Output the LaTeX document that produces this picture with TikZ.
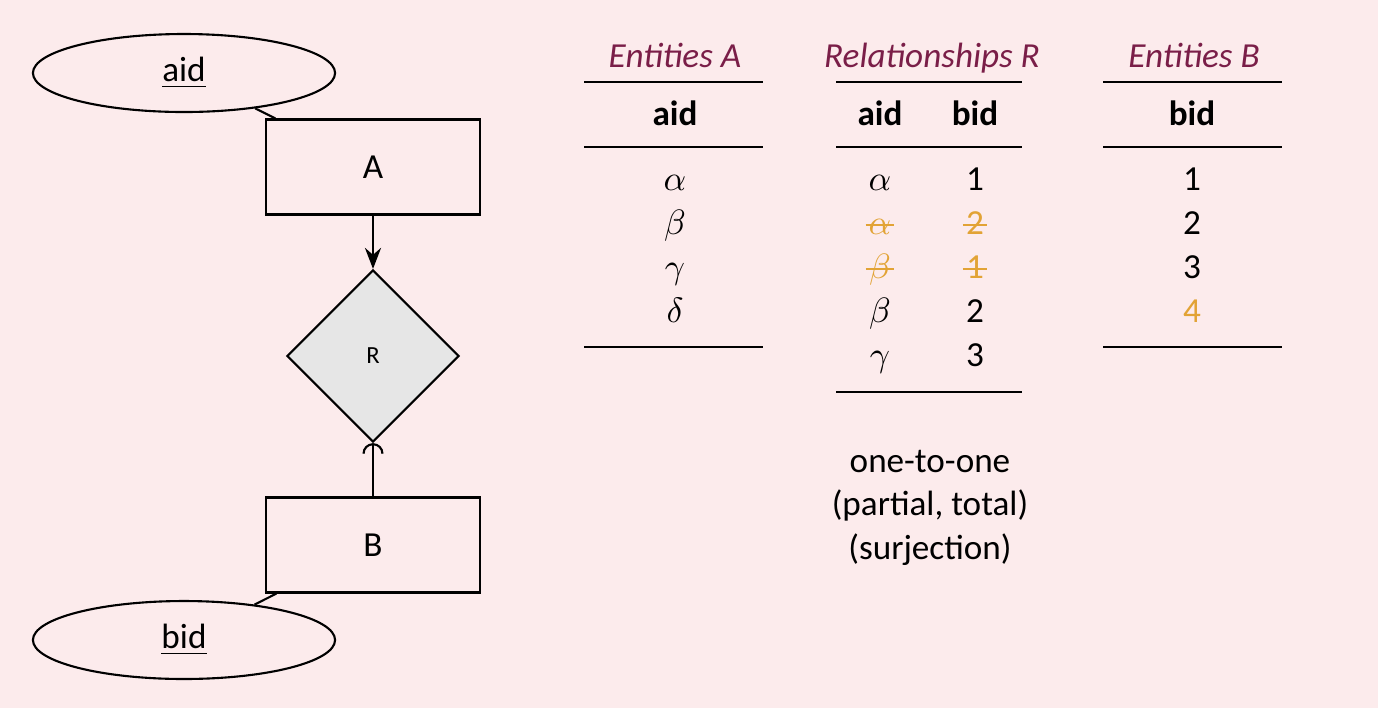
\documentclass[tikz,border=0pt]{standalone}
\usepackage{fontspec}
\setmainfont{Carlito}
\usetikzlibrary{positioning}
\usetikzlibrary{shapes.geometric}
\usetikzlibrary{arrows.meta}

\definecolor{bgpink}{RGB}{252,235,236}
\definecolor{titlepurple}{RGB}{122,30,72}
\definecolor{dropped}{RGB}{226,163,53}
\definecolor{relgray}{RGB}{230,230,230}

\tikzset{
  entity/.style={rectangle, draw, minimum width=2.14cm, minimum height=0.95cm},
  attrib/.style={ellipse, draw, minimum width=3.02cm, minimum height=0.73cm},
  relship/.style={diamond, draw, fill=relgray, minimum width=1.72cm, minimum height=1.72cm, inner sep=0pt, font=\scriptsize},
  cell/.style={anchor=base, inner sep=1pt},
  gone/.style={cell, text=dropped},
  ttl/.style={anchor=base, text=titlepurple, font=\itshape},
  toprule/.style={line width=0.8pt},
  midrule/.style={line width=0.5pt},
  strike/.style={draw=dropped, line width=0.6pt, shorten <=0.4pt, shorten >=0.4pt},
}

\begin{document}
\begin{tikzpicture}[x=0.01cm, y=-0.01cm, line width=0.6pt]
				\fill[bgpink] (0,0) rectangle (1378,708);

				% ER diagram
				\node[attrib] (aid) at (184,73) {\underline{aid}};
				\node[entity] (A) at (373,167) {A};
				\node[relship] (R) at (373,356) {R};
				\node[entity] (B) at (373,545) {B};
				\node[attrib] (bid) at (184,640) {\underline{bid}};

				\draw (aid) -- (A);
				\draw (bid) -- (B);
				\draw[-{Stealth[length=6pt, width=4.6pt, inset=2pt]}] (A) -- (R);
				\draw[-{Arc Barb[width=6pt, length=3pt]}] (B) -- (R);

				% Entities A
				\node[ttl] (tA) at (675,67) {Entities A};
				\draw[toprule] (584,82) -- (763,82);
				\node[cell, font=\bfseries] (hA) at (675,125) {aid};
				\draw[midrule] (584,147) -- (763,147);
				\foreach \g [count=\i] in {\alpha,\beta,\gamma,\delta}
					\node[cell] (a\i) at (675,{146+44*\i}) {$\g$};
				\draw[toprule] (584,347) -- (763,347);

				% Relationships R
				\node[ttl] (tR) at (932,67) {Relationships R};
				\draw[toprule] (836,82) -- (1022,82);
				\node[cell, font=\bfseries] (hRa) at (880,125) {aid};
				\node[cell, font=\bfseries] (hRb) at (975,125) {bid};
				\draw[midrule] (836,147) -- (1022,147);
				\node[cell] (r1a) at (880,190) {$\alpha$};
				\node[cell] (r1b) at (975,190) {1};
				\node[gone] (r2a) at (880,234) {$\alpha$};
				\node[gone] (r2b) at (975,234) {2};
				\node[gone] (r3a) at (880,278) {$\beta$};
				\node[gone] (r3b) at (975,278) {1};
				\node[cell] (r4a) at (880,322) {$\beta$};
				\node[cell] (r4b) at (975,322) {2};
				\node[cell] (r5a) at (880,366) {$\gamma$};
				\node[cell] (r5b) at (975,366) {3};
				\foreach \n in {r2a,r2b,r3a,r3b}
					\draw[strike] ([yshift=2.6pt]\n.base west) -- ([yshift=2.6pt]\n.base east);
				\draw[toprule] (836,392) -- (1022,392);

				\node[align=center, anchor=north, font=\fontsize{10}{12.5}\selectfont] (kind) at (930,437)
					{one-to-one\\(partial, total)\\(surjection)};

				% Entities B
				\node[ttl] (tB) at (1194,67) {Entities B};
				\draw[toprule] (1103,82) -- (1282,82);
				\node[cell, font=\bfseries] (hB) at (1192,125) {bid};
				\draw[midrule] (1103,147) -- (1282,147);
				\foreach \k in {1,2,3}
					\node[cell] (b\k) at (1192,{146+44*\k}) {\k};
				\node[gone] (b4) at (1192,322) {4};
				\draw[toprule] (1103,347) -- (1282,347);
			\end{tikzpicture}
\end{document}
